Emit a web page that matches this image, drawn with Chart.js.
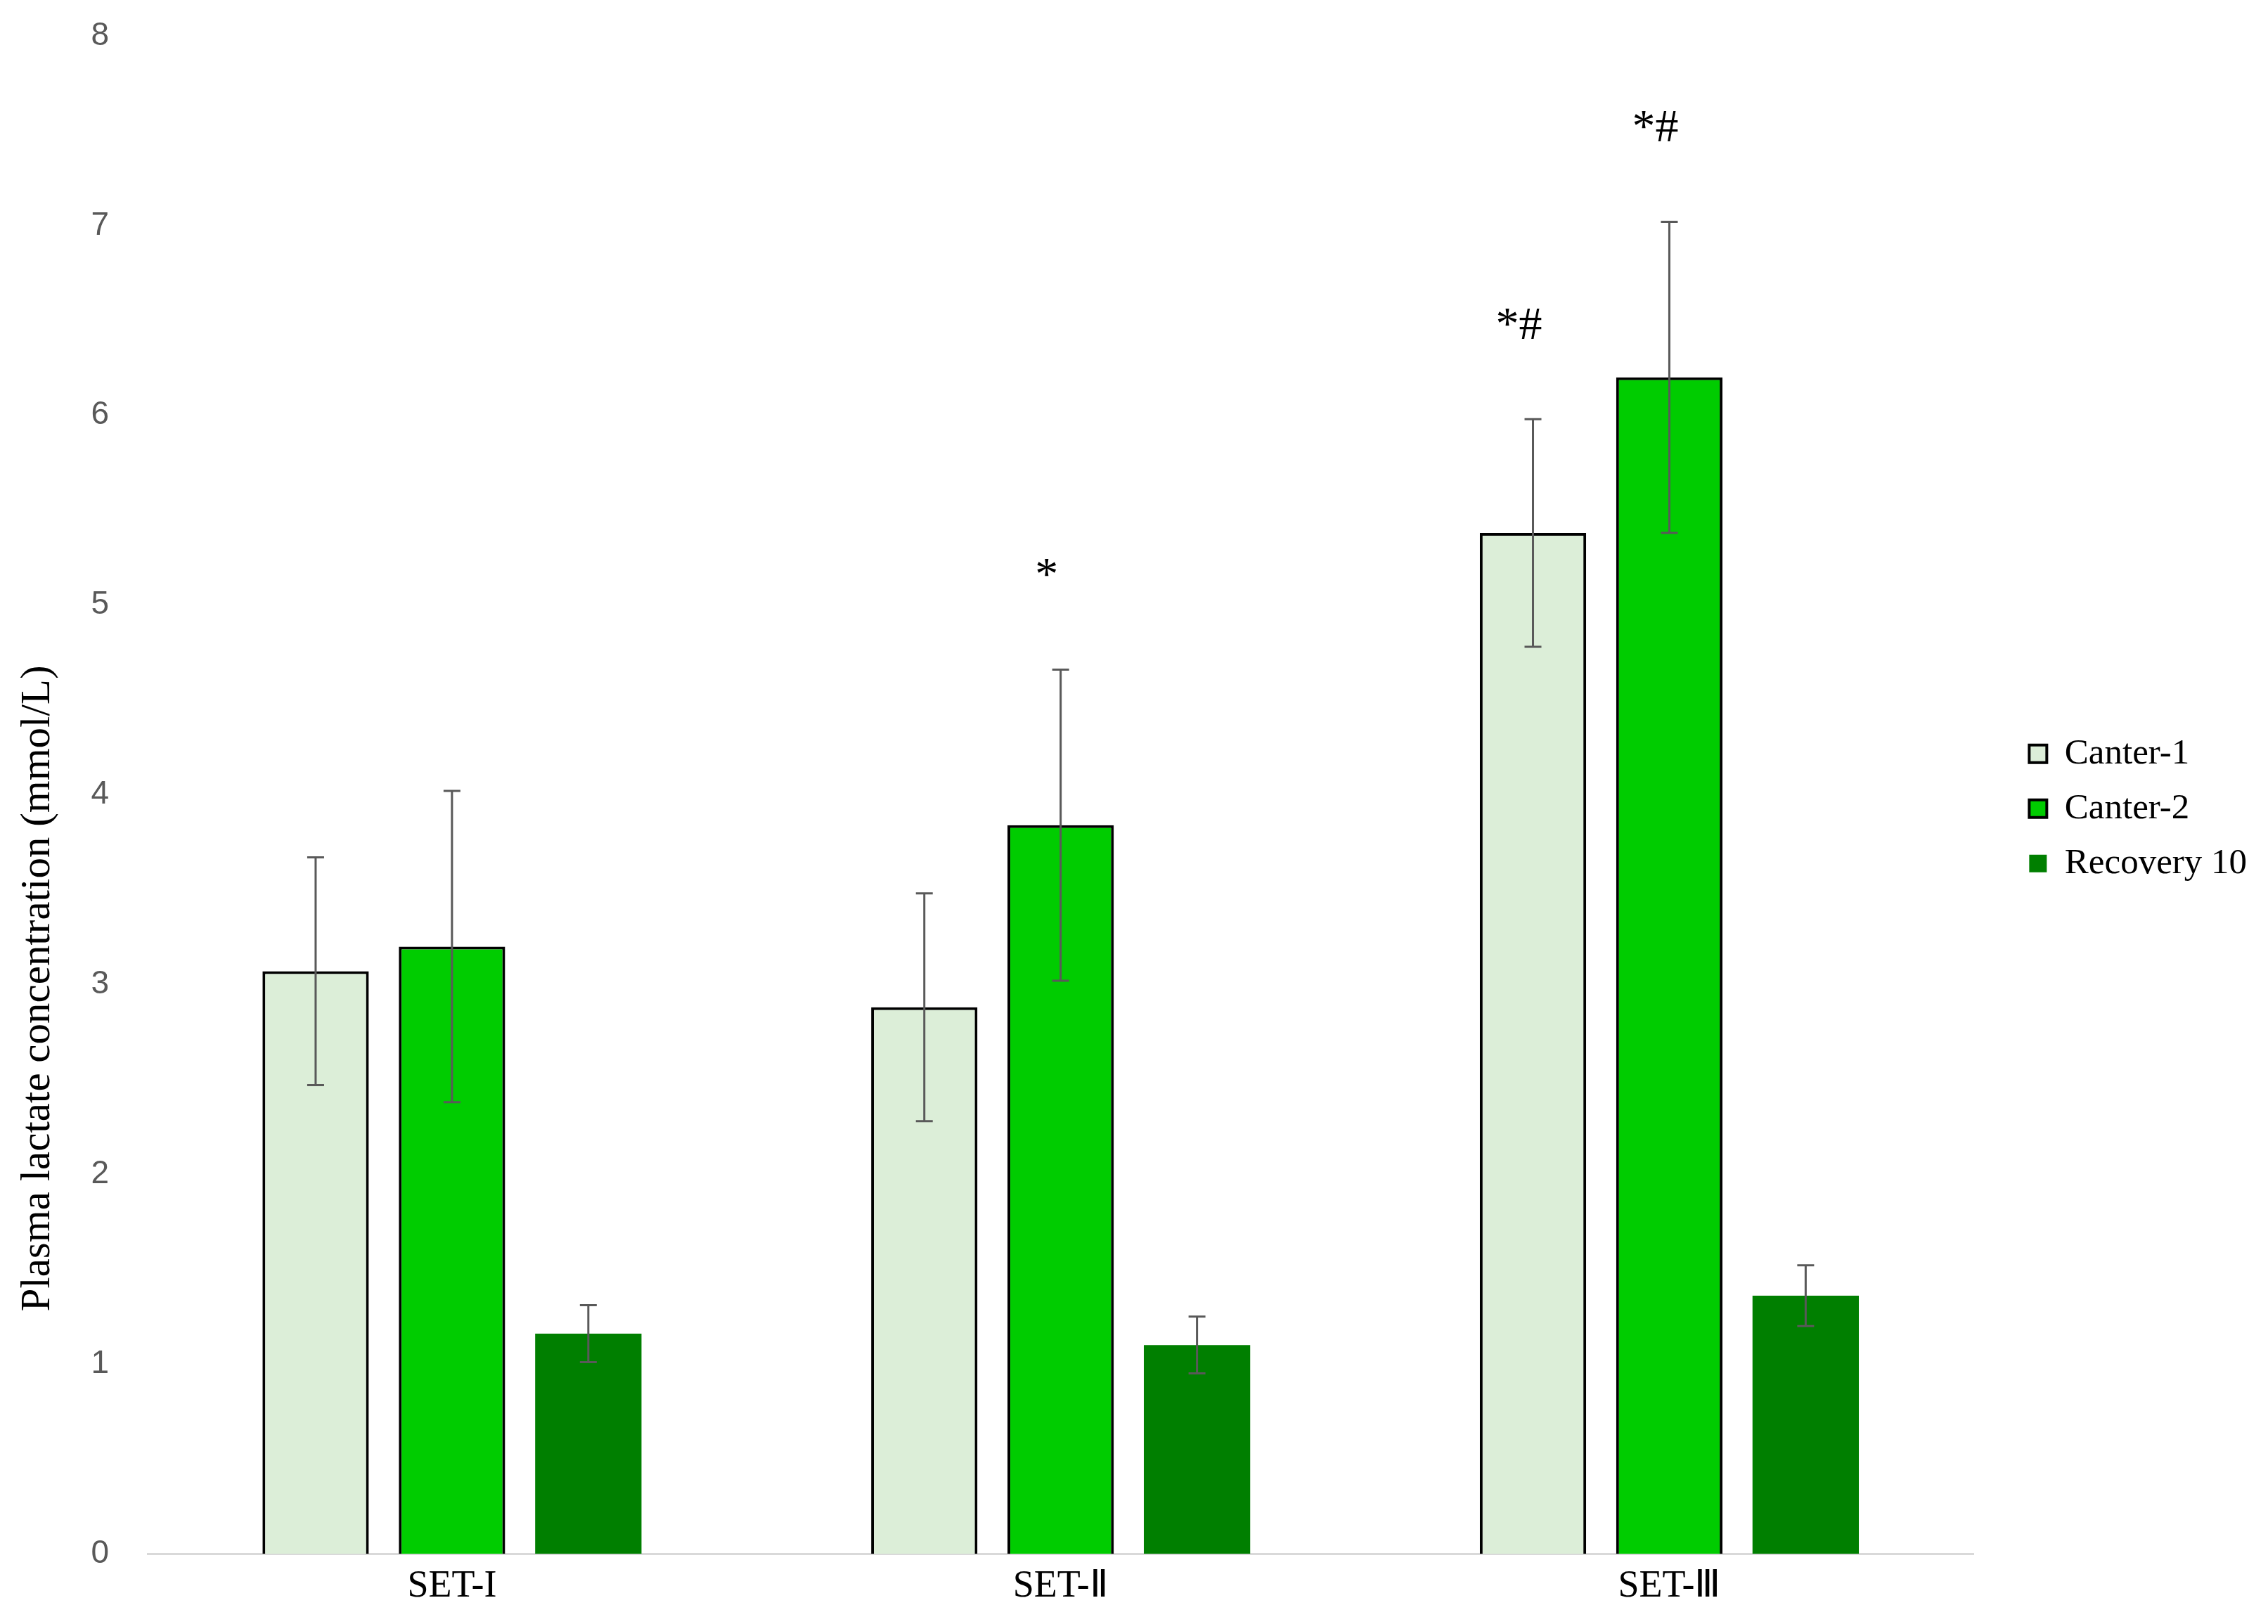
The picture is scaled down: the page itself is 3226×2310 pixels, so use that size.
<!DOCTYPE html>
<html>
<head>
<meta charset="utf-8">
<title>Plasma lactate</title>
<script src="https://cdn.jsdelivr.net/npm/chart.js"></script>
<style>
  html, body { margin: 0; padding: 0; background: #fff; }
  canvas { display: block; }
</style>
</head>
<body>
<canvas id="myChart" width="3226" height="2310"></canvas>
<script>
// data
const categories = ['SET-I', 'SET-Ⅱ', 'SET-Ⅲ'];
const canter1 = [3.07, 2.88, 5.38];
const canter2 = [3.20, 3.84, 6.20];
const recovery10 = [1.16, 1.10, 1.36];
const canter1Err = [0.60, 0.60, 0.60];
const canter2Err = [0.82, 0.82, 0.82];
const recovery10Err = [0.15, 0.15, 0.16];
const canter1Marks = ['', '', '*#'];
const canter2Marks = ['', '*', '*#'];
const recovery10Marks = ['', '', ''];
const yTicks = [0, 1, 2, 3, 4, 5, 6, 7, 8];
const yTitle = 'Plasma lactate concentration (mmol/L)';

const errs = [canter1Err, canter2Err, recovery10Err];
const marks = [canter1Marks, canter2Marks, recovery10Marks];

const serif = "'Liberation Serif', 'Times New Roman', serif";

// error bars + significance marks + y title
const extras = {
  id: 'extras',
  afterDatasetsDraw(chart) {
    const ctx = chart.ctx;
    const y = chart.scales.y;
    ctx.save();
    chart.data.datasets.forEach((ds, i) => {
      const meta = chart.getDatasetMeta(i);
      meta.data.forEach((bar, j) => {
        const v = ds.data[j];
        const e = errs[i][j];
        const top = y.getPixelForValue(v + e);
        const bot = y.getPixelForValue(v - e);
        ctx.strokeStyle = '#595959';
        ctx.lineWidth = 3;
        ctx.beginPath();
        ctx.moveTo(bar.x, top); ctx.lineTo(bar.x, bot);
        ctx.moveTo(bar.x - 12, top); ctx.lineTo(bar.x + 12, top);
        ctx.moveTo(bar.x - 12, bot); ctx.lineTo(bar.x + 12, bot);
        ctx.stroke();
        if (marks[i][j]) {
          ctx.fillStyle = '#000';
          ctx.font = '66px ' + serif;
          ctx.textAlign = 'center';
          ctx.textBaseline = 'alphabetic';
          ctx.fillText(marks[i][j], bar.x - 20, top - 114);
        }
      });
    });
    // rotated axis title
    ctx.translate(70, 1406);
    ctx.rotate(-Math.PI / 2);
    ctx.fillStyle = '#000';
    ctx.font = '59px ' + serif;
    ctx.textAlign = 'center';
    ctx.textBaseline = 'alphabetic';
    ctx.fillText(yTitle, 0, 0);
    ctx.restore();
  }
};

const ctx = document.getElementById('myChart').getContext('2d');
new Chart(ctx, {
  type: 'bar',
  data: {
    labels: categories,
    datasets: [
      {
        label: 'Canter-1',
        data: canter1,
        backgroundColor: '#DCEED8',
        borderColor: '#000000',
        borderWidth: 4
      },
      {
        label: 'Canter-2',
        data: canter2,
        backgroundColor: '#00CC00',
        borderColor: '#000000',
        borderWidth: 4
      },
      {
        label: 'Recovery 10',
        data: recovery10,
        backgroundColor: '#007F00',
        borderColor: '#007F00',
        borderWidth: 0
      }
    ]
  },
  options: {
    responsive: false,
    animation: false,
    devicePixelRatio: 1,
    layout: { padding: { top: 51, right: 20, bottom: 0, left: 0 } },
    datasets: { bar: { categoryPercentage: 0.672, barPercentage: 0.78 } },
    plugins: {
      tooltip: { enabled: false },
      legend: {
        position: 'right',
        fullSize: false,
        title: { display: true, text: ' ', padding: 0, font: { size: 33 } },
        labels: {
          color: '#000',
          font: { family: serif, size: 51 },
          boxWidth: 25,
          boxHeight: 25,
          padding: 27
        }
      }
    },
    scales: {
      x: {
        grid: { display: false, drawTicks: false },
        border: { display: true, color: '#D9D9D9', width: 3 },
        ticks: { color: '#000', font: { family: serif, size: 54 }, padding: 14 },
        afterFit(scale) { scale.height = 100; }
      },
      y: {
        min: 0,
        max: 8,
        grid: { display: false, drawTicks: false },
        border: { display: false },
        afterBuildTicks(scale) { scale.ticks = yTicks.map(v => ({ value: v })); },
        ticks: {
          color: '#595959',
          font: { family: "'Liberation Sans Narrow', 'Liberation Sans', sans-serif", size: 46 },
          padding: 55
        },
        afterFit(scale) {
          scale.width = 210;
          scale.paddingTop = 0;
          scale.paddingBottom = 0;
        }
      },
      yR: {
        type: 'linear',
        position: 'right',
        display: true,
        grid: { display: false, drawTicks: false },
        border: { display: false },
        ticks: { display: false },
        afterFit(scale) {
          scale.width = 52;
          scale.paddingTop = 0;
          scale.paddingBottom = 0;
        }
      }
    }
  },
  plugins: [extras]
});
</script>
</body>
</html>
